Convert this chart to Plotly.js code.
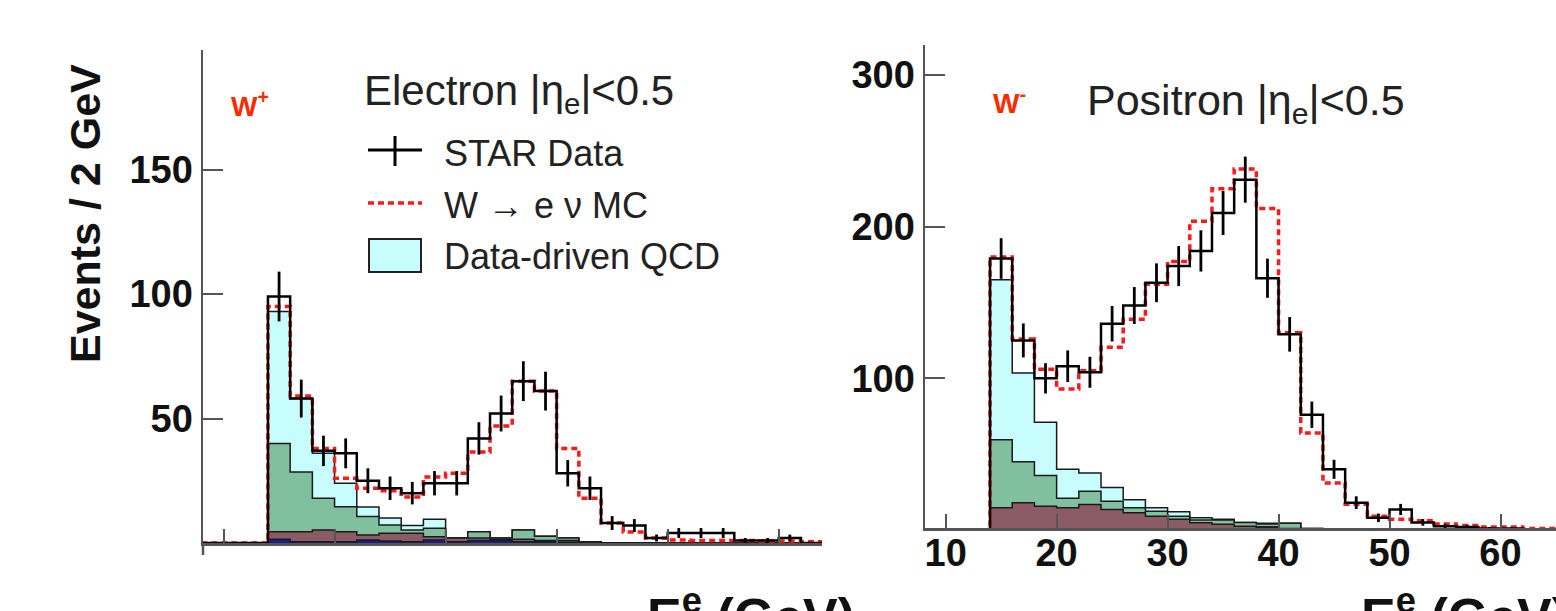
<!DOCTYPE html>
<html>
<head>
<meta charset="utf-8">
<script src="https://cdn.plot.ly/plotly-3.0.1.min.js"></script>
<style>html,body{margin:0;padding:0;background:#fff;}#chart{width:1556px;height:611px;}</style>
</head>
<body>
<div id="chart"></div>
<script>
// ---- Data (2 GeV bins, low edges) ----
const binLow = [8,10,12,14,16,18,20,22,24,26,28,30,32,34,36,38,40,42,44,46,48,50,52,54,56,58,60,62,64];
const binWidth = 2;

// W+ (Electron |eta_e|<0.5)
const dataPlus   = [0,0,0,99,58,37,36,25,22,20,24,24,42,52,65,61,28,22,8,7,2,4,4,4,1,1,2,0,0];
const errPlus    = [0,0,0,10,7.6,6.1,6,5,4.7,4.5,4.9,4.9,6.5,7.2,8,7.8,5.3,4.7,2.8,2.6,1.4,2,2,2,1,1,1.4,0,0];
const mcPlus     = [0,0,0,95,59,38,26,22,21,18.5,26.5,28,36.5,47,65,61,38,18,8,4.4,2,1.2,1,1,1,0.8,0.8,0.5,0];
// cumulative stack tops of the background layers
const qcdTopPlus    = [0,0,0,93,58,36,24,14.5,10,7,9.5,2,4.5,2,5.2,2.7,2,0.5,0,0,0,0,0,0,0,0,0,0,0];
const greenTopPlus  = [0,0,0,40,28.5,18,14.6,10.6,7.2,5.2,5.9,1.9,4.5,2,5.2,2.7,2,0.5,0,0,0,0,0,0,0,0,0,0,0];
const maroonTopPlus = [0,0,0,4.5,4.5,5.2,4.5,3.2,3.9,3.9,2.5,2,2,1.5,1.5,1,1,0.5,0,0,0,0,0,0,0,0,0,0,0];
const blueTopPlus   = [0,0,0,1.5,0.5,0.5,0.5,1.2,0.8,0.5,1.2,0.5,1,1,0.5,0.5,0.3,0,0,0,0,0,0,0,0,0,0,0,0];

// W- (Positron |eta_e|<0.5)
const dataMinus   = [0,0,0,179,125,100,108,104,136,148,163,174,184,209,231,166,129,76,40,18,8,13.5,5,2.5,2,1,1,0,0];
const errMinus    = [0,0,0,13.4,11.2,10,10.4,10.2,11.7,12.2,12.8,13.2,13.6,14.5,15.2,12.9,11.4,8.7,6.3,4.2,2.8,3.7,2.2,1.6,1.4,1,1,0,0];
const mcMinus     = [0,0,0,180,126,106,93,105,120.5,139,162,177,203.5,225,238,212,130,64,31,17,9,7,6,4,3,2,2,1,1];
const qcdTopMinus    = [0,0,0,165,103.5,71,40,37.5,28,20,14.6,12,8,7,5,4.5,4.5,1,0.5,0.3,0,0,0,0,0,0,0,0,0];
const greenTopMinus  = [0,0,0,59.5,45,36,21,25.5,19,14.6,12.4,9,6.5,6.5,5,4,4.5,1,0.5,0.3,0,0,0,0,0,0,0,0,0];
const maroonTopMinus = [0,0,0,14.6,18,15.7,14.6,16.8,13.5,11.3,9,7,4.8,3.7,2.5,2,1,0.5,0.3,0,0,0,0,0,0,0,0,0,0];
const blueTopMinus   = [0,0,0,0.3,0.3,0.3,0.3,0.3,0.3,0.3,0.3,0.3,0.3,0.5,0.5,2,0.5,0,0,0,0,0,0,0,0,0,0,0,0];

const yTicksPlus = [50,100,150];
const yTicksMinus = [100,200,300];
const xTicks = [10,20,30,40,50,60];

// ---- helpers ----
function stepXY(vals){
  const n = vals.length;
  const xs = [binLow[0]], ys = [0];
  for (let i=0;i<n;i++){ xs.push(binLow[i]); ys.push(vals[i]); }
  xs.push(binLow[n-1]+binWidth); ys.push(vals[n-1]);
  xs.push(binLow[n-1]+binWidth); ys.push(0);
  return {x:xs, y:ys};
}
function layer(vals, color, xa, ya){
  const s = stepXY(vals);
  return {x:s.x, y:s.y, xaxis:xa, yaxis:ya, type:'scatter', mode:'lines',
    line:{shape:'hv', color:'#1a1a1a', width:1.5}, fill:'tozeroy', fillcolor:color,
    showlegend:false, hoverinfo:'skip'};
}
function mcLine(vals, xa, ya){
  const s = stepXY(vals);
  return {x:s.x, y:s.y, xaxis:xa, yaxis:ya, type:'scatter', mode:'lines',
    line:{shape:'hv', color:'#ff1a1a', width:3.5, dash:'6px,4px'}, showlegend:false, hoverinfo:'skip'};
}
function dataLine(vals, xa, ya){
  const s = stepXY(vals);
  return {x:s.x, y:s.y, xaxis:xa, yaxis:ya, type:'scatter', mode:'lines',
    line:{shape:'hv', color:'#000', width:2.5}, showlegend:false, hoverinfo:'skip'};
}
function dataErr(vals, errs, xa, ya){
  const x=[], y=[], e=[];
  for (let i=0;i<vals.length;i++){ if (vals[i]>0){ x.push(binLow[i]+binWidth/2); y.push(vals[i]); e.push(errs[i]); } }
  return {x:x, y:y, xaxis:xa, yaxis:ya, type:'scatter', mode:'markers',
    marker:{size:1, color:'#000'},
    error_y:{type:'data', array:e, visible:true, thickness:2.8, width:0, color:'#000'},
    showlegend:false, hoverinfo:'skip'};
}

const cyan = '#c8fdfd', green = '#80c09f', maroon = '#8c5c66', blue = '#1c1c8a';

const traces = [
  layer(qcdTopPlus, cyan, 'x', 'y'),
  layer(greenTopPlus, green, 'x', 'y'),
  layer(maroonTopPlus, maroon, 'x', 'y'),
  layer(blueTopPlus, blue, 'x', 'y'),
  mcLine(mcPlus, 'x', 'y'),
  dataLine(dataPlus, 'x', 'y'),
  dataErr(dataPlus, errPlus, 'x', 'y'),
  layer(qcdTopMinus, cyan, 'x2', 'y2'),
  layer(greenTopMinus, green, 'x2', 'y2'),
  layer(maroonTopMinus, maroon, 'x2', 'y2'),
  layer(blueTopMinus, blue, 'x2', 'y2'),
  mcLine(mcMinus, 'x2', 'y2'),
  dataLine(dataMinus, 'x2', 'y2'),
  dataErr(dataMinus, errMinus, 'x2', 'y2')
];

const W = 1556, H = 611;
const px = v => v / W;
const py = v => 1 - v / H;
const FONT = 'Liberation Sans, Arial, Helvetica, sans-serif';
const tickFont = {family: FONT, size: 38, color: '#111', weight: 'bold'};

const axisCommon = {showline:true, linecolor:'#555', linewidth:2.5, ticks:'inside', tickcolor:'#555',
  tickwidth:2, showgrid:false, zeroline:false, fixedrange:true};

const layout = {
  width: W, height: H,
  margin: {l:0, r:0, t:0, b:0},
  paper_bgcolor: '#fff', plot_bgcolor: 'rgba(0,0,0,0)',
  showlegend: false,
  xaxis: Object.assign({}, axisCommon, {domain:[px(203), px(822)], range:[8.15, 63.9], anchor:'y',
    tickvals: xTicks, ticklen: 14, showticklabels: false}),
  yaxis: Object.assign({}, axisCommon, {domain:[py(543), py(50)], range:[0, 198], anchor:'x',
    tickvals: yTicksPlus, ticklen: 20, tickfont: tickFont}),
  xaxis2: Object.assign({}, axisCommon, {domain:[px(925), 1], range:[8.14, 65.0], anchor:'y2',
    tickvals: xTicks, ticklen: 14, tickfont: tickFont, ticklabelstandoff: -10}),
  yaxis2: Object.assign({}, axisCommon, {domain:[py(528), py(45)], range:[1.3, 319.8], anchor:'x2',
    tickvals: yTicksMinus, ticklen: 20, tickfont: tickFont}),
  annotations: [
    {xref:'paper', yref:'paper', x:px(85), y:py(214), text:'Events / 2 GeV', textangle:-90, showarrow:false,
      font:{family:FONT, size:43, color:'#111', weight:'bold'}, xanchor:'center', yanchor:'middle'},
    {xref:'paper', yref:'paper', x:px(362), y:py(93), text:'Electron |η<sub>e</sub>|&lt;0.5', showarrow:false,
      font:{family:FONT, size:42, color:'#222'}, xanchor:'left', yanchor:'middle'},
    {xref:'paper', yref:'paper', x:px(1085), y:py(103), text:'Positron |η<sub>e</sub>|&lt;0.5', showarrow:false,
      font:{family:FONT, size:43, color:'#222'}, xanchor:'left', yanchor:'middle'},
    {xref:'paper', yref:'paper', x:px(442), y:py(153), text:'STAR Data', showarrow:false,
      font:{family:FONT, size:36, color:'#222'}, xanchor:'left', yanchor:'middle'},
    {xref:'paper', yref:'paper', x:px(442), y:py(205), text:'W → e ν MC', showarrow:false,
      font:{family:FONT, size:36, color:'#222'}, xanchor:'left', yanchor:'middle'},
    {xref:'paper', yref:'paper', x:px(442), y:py(257), text:'Data-driven QCD', showarrow:false,
      font:{family:FONT, size:36, color:'#222'}, xanchor:'left', yanchor:'middle'},
    {xref:'paper', yref:'paper', x:px(229), y:py(104), text:'W<sup>+</sup>', showarrow:false,
      font:{family:FONT, size:28, color:'#ff2a00', weight:'bold'}, xanchor:'left', yanchor:'middle'},
    {xref:'paper', yref:'paper', x:px(991), y:py(101), text:'W<sup>-</sup>', showarrow:false,
      font:{family:FONT, size:28, color:'#ff2a00', weight:'bold'}, xanchor:'left', yanchor:'middle'},
    {xref:'paper', yref:'paper', x:px(645), y:py(578), text:'E<sup>e</sup> (GeV)', showarrow:false,
      font:{family:FONT, size:52, color:'#111', weight:'bold'}, xanchor:'left', yanchor:'top'},
    {xref:'paper', yref:'paper', x:px(1359), y:py(578), text:'E<sup>e</sup> (GeV)', showarrow:false,
      font:{family:FONT, size:52, color:'#111', weight:'bold'}, xanchor:'left', yanchor:'top'}
  ],
  shapes: [
    // left y-axis line continues a little below the x axis, as in the reference
    {type:'line', xref:'paper', yref:'paper', x0:px(203), x1:px(203), y0:py(543), y1:py(555), line:{color:'#555', width:2.5}},
    // legend: data cross
    {type:'line', xref:'paper', yref:'paper', x0:px(368), x1:px(422), y0:py(150), y1:py(150), line:{color:'#000', width:3}},
    {type:'line', xref:'paper', yref:'paper', x0:px(395), x1:px(395), y0:py(136), y1:py(166), line:{color:'#000', width:3}},
    // legend: MC dashed
    {type:'line', xref:'paper', yref:'paper', x0:px(368), x1:px(422), y0:py(203), y1:py(203), line:{color:'#ff1a1a', width:3.5, dash:'6px,4px'}},
    // legend: QCD box
    {type:'rect', xref:'paper', yref:'paper', x0:px(369), x1:px(421), y0:py(272), y1:py(239), line:{color:'#222', width:2}, fillcolor:cyan}
  ]
};

Plotly.newPlot('chart', traces, layout, {displayModeBar:false, staticPlot:true});
</script>
</body>
</html>
